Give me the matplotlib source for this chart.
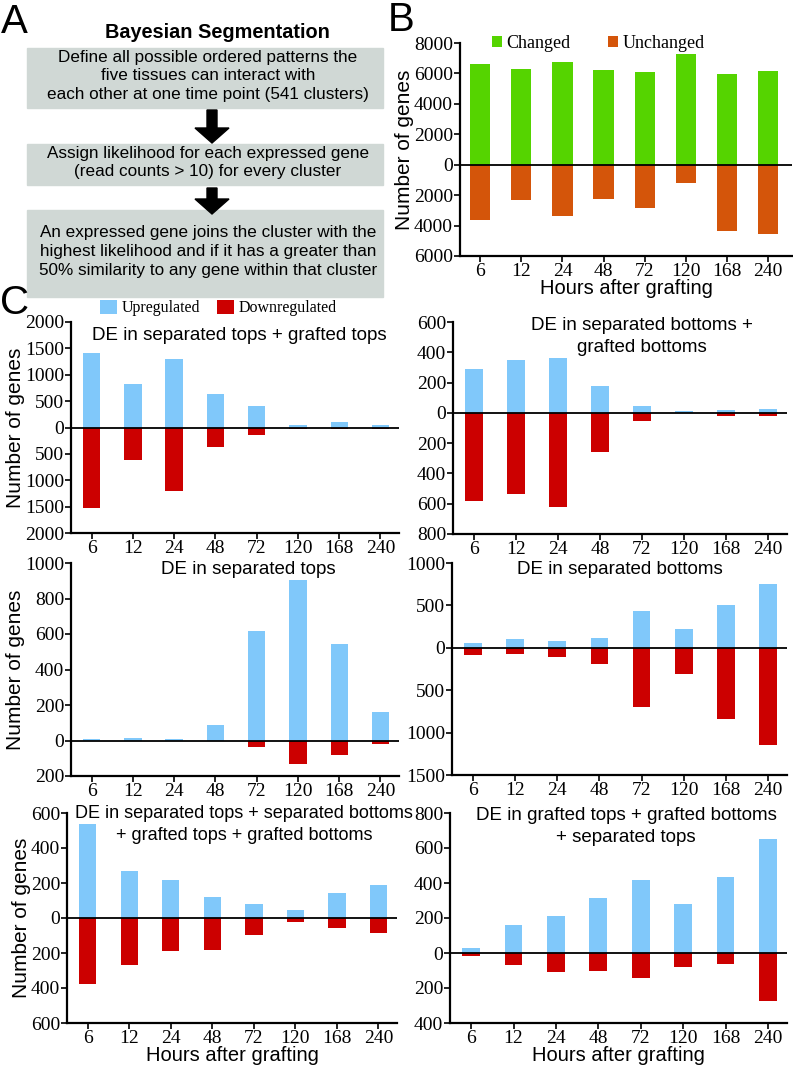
import numpy as np
import matplotlib
matplotlib.use('Agg')
import matplotlib.pyplot as plt
from matplotlib.patches import Rectangle, FancyArrow
from matplotlib.ticker import FuncFormatter

# data
hours = ['6', '12', '24', '48', '72', '120', '168', '240']

changed = [6650, 6320, 6750, 6250, 6120, 7300, 5990, 6190]
unchanged = [3620, 2310, 3400, 2240, 2850, 1180, 4380, 4580]

# panel C: upregulated / downregulated per comparison
up_sep_graft_tops = [1410, 825, 1308, 641, 406, 45, 100, 45]
down_sep_graft_tops = [1524, 616, 1206, 375, 133, 30, 30, 30]

up_sep_graft_bottoms = [289, 346, 359, 176, 44, 9, 18, 26]
down_sep_graft_bottoms = [582, 534, 624, 260, 51, 2, 24, 18]

up_sep_tops = [7, 13, 7, 90, 618, 904, 541, 161]
down_sep_tops = [0, 0, 0, 0, 39, 133, 80, 22]

up_sep_bottoms = [59, 103, 75, 115, 439, 225, 510, 751]
down_sep_bottoms = [87, 75, 111, 186, 700, 312, 838, 1146]

up_all_four = [539, 267, 219, 118, 80, 44, 145, 189]
down_all_four = [375, 269, 190, 185, 99, 23, 57, 88]

up_graft_sep_tops = [31, 159, 212, 316, 419, 279, 436, 649]
down_graft_sep_tops = [15, 71, 107, 101, 144, 82, 65, 276]

flow_steps = [
    'Define all possible ordered patterns the\nfive tissues can interact with\neach other at one time point (541 clusters)',
    'Assign likelihood for each expressed gene\n(read counts > 10) for every cluster',
    'An expressed gene joins the cluster with the\nhighest likelihood and if it has a greater than\n50% similarity to any gene within that cluster',
]

W, H = 793, 1066
serif = 'Liberation Serif'
sans = 'Liberation Sans'
plt.rcParams['font.family'] = serif

green = '#55d400'
orange = '#d4550a'
blue = '#80c8fa'
red = '#cc0000'
grey_box = '#d0d8d5'

fig = plt.figure(figsize=(W / 100, H / 100), dpi=100)


def box(l, r, t, b):
    return [l / W, 1 - b / H, (r - l) / W, (b - t) / H]


def fx(px):
    return px / W


def fy(py):
    return 1 - py / H


absfmt = FuncFormatter(lambda v, p: '%d' % abs(v))


def style_axes(ax, ylim, step, xlim=(-0.5, 7.45)):
    for s in ['top', 'right']:
        ax.spines[s].set_visible(False)
    ax.spines['left'].set_linewidth(1.6)
    ax.spines['bottom'].set_linewidth(1.6)
    ax.axhline(0, color='black', linewidth=1.3, zorder=3)
    ax.set_ylim(ylim)
    ax.set_xlim(xlim)
    ax.set_yticks(np.arange(ylim[0], ylim[1] + 1, step))
    ax.yaxis.set_major_formatter(absfmt)
    ax.set_xticks(range(len(hours)))
    ax.set_xticklabels(hours)
    ax.tick_params(axis='both', direction='out', length=4, width=1.2,
                   labelsize=14, pad=1)


# ---------- panel A ----------
fig.text(fx(1), fy(3), 'A', fontsize=29, family=sans, va='top', ha='left')
fig.text(fx(217), fy(33), 'Bayesian Segmentation', fontsize=14.3, family=sans,
         weight='bold', ha='center', va='center')
box_rows = [(48, 108), (144, 185), (210, 297)]
for (t, b), txt in zip(box_rows, flow_steps):
    fig.patches.append(Rectangle((fx(27), fy(b)), (383 - 27) / W, (b - t) / H,
                                 transform=fig.transFigure, color=grey_box, zorder=0))
    fig.text(fx(208), fy((t + b) / 2 - 2), txt, fontsize=12.3, family=sans,
             ha='center', va='center', linespacing=1.3)
for t, b in [(110, 143), (188, 214)]:
    fig.patches.append(FancyArrow(fx(212), fy(t), 0, -(b - t) / H,
                                  width=10 / W, head_width=34 / W,
                                  head_length=15 / H, length_includes_head=True,
                                  transform=fig.transFigure, color='black'))

# ---------- panel B ----------
fig.text(fx(388), fy(1), 'B', fontsize=29, family=sans, va='top', ha='left')
axB = fig.add_axes(box(460, 792, 43, 256))
x = np.arange(len(hours))
bc = axB.bar(x, changed, width=0.49, color=green, label='Changed')
bu = axB.bar(x, [-v for v in unchanged], width=0.49, color=orange, label='Unchanged')
style_axes(axB, (-6000, 8000), 2000, xlim=(-0.49, 7.58))
axB.set_ylabel('Number of genes', family=sans, fontsize=15, labelpad=0)
axB.set_xlabel('Hours after grafting', family=sans, fontsize=14.5, labelpad=-1)
fig.legend(handles=[bc, bu], loc='center left', bbox_to_anchor=(fx(492), fy(43)),
           ncol=2, frameon=False, prop={'family': serif, 'size': 13},
           handlelength=0.55, handleheight=0.55, handletextpad=0.25,
           columnspacing=2.1, borderaxespad=0, borderpad=0)

# ---------- panel C ----------
fig.text(fx(0), fy(284), 'C', fontsize=29, family=sans, va='top', ha='left')

panels = [
    (box(71, 399, 322, 533), up_sep_graft_tops, down_sep_graft_tops, (-2000, 2000), 500,
     ['DE in separated tops + grafted tops'], (239, 335), 13.5),
    (box(453, 787, 322, 534), up_sep_graft_bottoms, down_sep_graft_bottoms, (-800, 600), 200,
     ['DE in separated bottoms +', 'grafted bottoms'], (642, 325), 13.5),
    (box(71, 399, 563, 776), up_sep_tops, down_sep_tops, (-200, 1000), 200,
     ['DE in separated tops'], (248, 569), 13.5),
    (box(452, 787, 563, 775), up_sep_bottoms, down_sep_bottoms, (-1500, 1000), 500,
     ['DE in separated bottoms'], (620, 569), 13.5),
    (box(67, 397, 813, 1023), up_all_four, down_all_four, (-600, 600), 200,
     ['DE in separated tops + separated bottoms', '+ grafted tops + grafted bottoms'], (244, 813), 13),
    (box(450, 787, 813, 1023), up_graft_sep_tops, down_graft_sep_tops, (-400, 800), 200,
     ['DE in grafted tops + grafted bottoms', '+ separated tops'], (626, 815), 13.5),
]

for i, (rect, up, down, ylim, step, title, (tx, ty), tsize) in enumerate(panels):
    ax = fig.add_axes(rect)
    bup = ax.bar(x, up, width=0.42, color=blue, label='Upregulated', zorder=2)
    bdn = ax.bar(x, [-v for v in down], width=0.42, color=red, label='Downregulated', zorder=2)
    style_axes(ax, ylim, step)
    if i % 2 == 0:
        ax.set_ylabel('Number of genes', family=sans, fontsize=15, labelpad=0)
    if i >= 4:
        ax.set_xlabel('Hours after grafting', family=sans, fontsize=14.5, labelpad=-1)
    for k, line in enumerate(title):
        fig.text(fx(tx), fy(ty + 22 * k), line, fontsize=tsize, family=sans,
                 ha='center', va='center')
    if i == 0:
        fig.legend(handles=[bup, bdn], loc='center left',
                   bbox_to_anchor=(fx(100), fy(308)), ncol=2, frameon=False,
                   prop={'family': serif, 'size': 11.5},
                   handlelength=1.05, handleheight=1.05, handletextpad=0.3,
                   columnspacing=1.05, borderaxespad=0, borderpad=0)

fig.savefig('out.png', dpi=100)
